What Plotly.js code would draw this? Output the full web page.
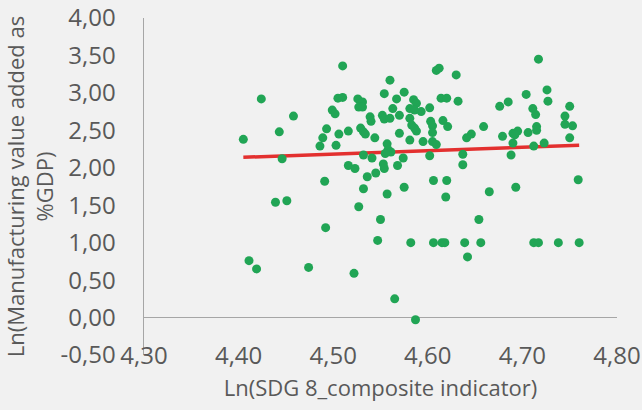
<!DOCTYPE html>
<html>
<head>
<meta charset="utf-8">
<script src="https://cdn.plot.ly/plotly-3.0.1.min.js"></script>
<style>html,body{margin:0;padding:0;background:#f1f1f1;}#chart{width:642px;height:410px;}</style>
</head>
<body>
<div id="chart"></div>
<script>
const xVals = [4.405,4.424,4.443,4.446,4.458,4.510,4.505,4.510,4.499,4.502,4.493,4.489,4.486,4.503,4.506,4.516,4.526,4.531,4.527,4.531,
4.529,4.532,4.534,4.539,4.540,4.544,4.560,4.554,4.567,4.575,4.563,4.552,4.554,4.560,4.570,4.570,4.581,4.557,4.558,4.561,
4.532,4.541,4.555,4.574,4.516,4.523,4.553,4.554,4.568,4.536,4.545,4.491,4.532,4.557,4.575,4.606,4.602,4.585,4.588,4.593,
4.581,4.586,4.602,4.581,4.583,4.586,4.588,4.603,4.605,4.605,4.605,4.609,4.595,4.616,4.621,4.609,4.612,4.630,4.614,4.620,
4.632,4.676,4.685,4.704,4.717,4.726,4.727,4.711,4.714,4.750,4.745,4.745,4.753,4.659,4.641,4.646,4.679,4.690,4.695,4.692,
4.706,4.715,4.715,4.690,4.712,4.723,4.750,4.637,4.637,4.688,4.759,4.620,4.619,4.665,4.693,4.439,4.451,4.527,4.492,4.550,
4.547,4.582,4.606,4.615,4.618,4.639,4.656,4.712,4.717,4.738,4.760,4.654,4.642,4.411,4.419,4.474,4.522,4.565,4.587];
const yVals = [2.38,2.92,2.48,2.12,2.69,3.36,2.93,2.94,2.77,2.72,2.52,2.40,2.29,2.30,2.45,2.49,2.92,2.88,2.81,2.81,
2.53,2.48,2.45,2.68,2.62,2.40,3.17,2.99,2.92,3.01,2.79,2.70,2.65,2.66,2.70,2.46,2.37,2.32,2.24,2.21,
2.17,2.13,2.19,2.13,2.03,1.99,2.05,1.99,2.03,1.88,1.93,1.82,1.72,1.65,1.74,1.83,2.16,2.91,2.86,2.75,
2.79,2.77,2.80,2.66,2.57,2.53,2.49,2.62,2.56,2.47,2.35,2.31,2.35,2.63,2.55,3.30,3.33,3.24,2.93,2.93,
2.89,2.82,2.88,2.98,3.45,3.04,2.89,2.79,2.71,2.82,2.69,2.58,2.56,2.55,2.40,2.45,2.42,2.46,2.49,2.44,
2.47,2.55,2.50,2.33,2.29,2.33,2.40,2.18,2.04,2.17,1.84,1.83,1.61,1.68,1.74,1.54,1.56,1.48,1.20,1.31,
1.03,1.00,1.00,1.00,1.00,1.00,1.00,1.00,1.00,1.00,1.00,1.31,0.81,0.76,0.65,0.67,0.59,0.25,-0.03];
const trendY = [2.14, 2.30];
const trendX = [Math.min(...xVals), Math.max(...xVals)];
const yTickVals = [-0.5, 0, 0.5, 1, 1.5, 2, 2.5, 3, 3.5, 4];
const yTickText = ['-0,50', '0,00', '0,50', '1,00', '1,50', '2,00', '2,50', '3,00', '3,50', '4,00'];
const xTitle = 'Ln(SDG 8_composite indicator)';
const yTitle = 'Ln(Manufacturing value added as<br>%GDP)';

const FONT = 'Open Sans, sans-serif';
const GREY = '#595959';

const traces = [
  {x: trendX, y: trendY, type: 'scatter', mode: 'lines', line: {color: '#e3302f', width: 3.5}, hoverinfo: 'skip'},
  {x: xVals, y: yVals, type: 'scatter', mode: 'markers', marker: {color: '#21a555', size: 9}}
];

const layout = {
  width: 642, height: 410,
  paper_bgcolor: '#f1f1f1', plot_bgcolor: '#f1f1f1',
  separators: ',.',
  showlegend: false,
  margin: {l: 144, r: 25, t: 18, b: 55},
  font: {family: FONT, color: GREY, size: 24},
  xaxis: {
    range: [4.30, 4.80], dtick: 0.1, tick0: 4.3, tickformat: '.2f',
    showgrid: false, zeroline: false, showline: false, ticks: '',
    ticklabelstandoff: -16,
    tickfont: {family: FONT, size: 24, color: GREY},
    automargin: false,
    title: {text: xTitle, font: {family: FONT, size: 22, color: GREY}, standoff: 10}
  },
  yaxis: {
    range: [-0.5, 4.0], tickmode: 'array', tickvals: yTickVals, ticktext: yTickText,
    showgrid: false, showline: true, linecolor: '#a6a6a6', linewidth: 1.5,
    zeroline: true, zerolinecolor: '#a6a6a6', zerolinewidth: 1.5,
    ticks: '', ticklabelstandoff: 22,
    tickfont: {family: FONT, size: 24, color: GREY},
    automargin: false,
    title: {text: yTitle, font: {family: FONT, size: 22, color: GREY}, standoff: 4}
  }
};

Plotly.newPlot('chart', traces, layout, {displayModeBar: false, staticPlot: true});
</script>
</body>
</html>
